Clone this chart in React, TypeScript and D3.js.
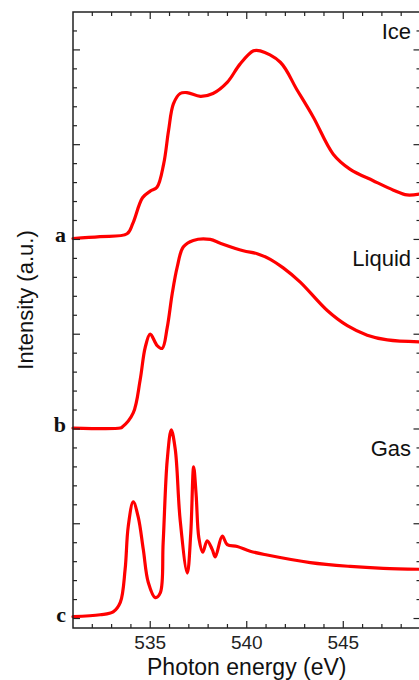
import React from "react";
import * as d3 from "d3";

const W = 419;
const H = 680;

// photon energy (eV), intensity (a.u.) relative to own baseline
const iceData: [number, number][] = [
  [531.0, 0.01], [532.4, 0.03], [533.8, 0.06], [534.1, 0.17], [534.6, 0.44],
  [535.0, 0.51], [535.35, 0.55], [535.7, 0.8], [535.95, 1.15], [536.2, 1.43],
  [536.55, 1.54], [536.9, 1.55], [537.6, 1.51], [538.25, 1.54], [539.0, 1.66],
  [539.65, 1.85], [540.35, 1.99], [540.7, 1.99], [541.74, 1.87], [542.6, 1.58],
  [543.45, 1.29], [544.48, 0.9], [545.36, 0.74], [546.55, 0.62], [547.6, 0.52],
  [548.3, 0.47], [548.95, 0.48],
];

const liquidData: [number, number][] = [
  [531.0, 0.01], [533.45, 0.01], [533.55, 0.02], [534.12, 0.17], [534.48, 0.52],
  [534.74, 0.86], [535.0, 1.0], [535.36, 0.88], [535.62, 0.85], [535.88, 1.07],
  [536.14, 1.43], [536.4, 1.71], [536.71, 1.92], [537.23, 1.99], [538.11, 2.0],
  [538.63, 1.96], [539.82, 1.88], [540.54, 1.85], [541.22, 1.79], [541.89, 1.7],
  [542.77, 1.55], [544.17, 1.25], [545.21, 1.09], [546.24, 0.99], [547.28, 0.94],
  [548.94, 0.92],
];

const gasData: [number, number][] = [
  [531.0, 0.02], [532.41, 0.04], [533.08, 0.07], [533.45, 0.17], [533.7, 0.52],
  [533.86, 0.97], [534.12, 1.23], [534.38, 1.07], [534.64, 0.73], [534.9, 0.38],
  [535.26, 0.22], [535.52, 0.27], [535.67, 0.8], [535.88, 1.67], [536.09, 1.99],
  [536.3, 1.78], [536.55, 1.04], [536.92, 0.48], [537.1, 0.9], [537.25, 1.6],
  [537.38, 1.3], [537.52, 0.85], [537.72, 0.7], [537.95, 0.82], [538.21, 0.73],
  [538.37, 0.65], [538.73, 0.87], [538.99, 0.78], [539.51, 0.76], [540.18, 0.71],
  [541.06, 0.67], [543.29, 0.59], [545.36, 0.55], [547.07, 0.53], [548.94, 0.52],
];

const seriesNames = ["Ice", "Liquid", "Gas"];
const seriesOffsets = [4, 2, 0];
const seriesLetters = ["a", "b", "c"];
const labelPositions = [6.2, 3.8, 1.8];
const xTickLabels = [535, 540, 545];

export default function App() {
  const left = 73, right = 420.5, top = 12, bottom = 628;
  const x = d3.scaleLinear().domain([531, 549]).range([left, right]);
  const y = d3.scaleLinear().domain([-0.1, 6.4]).range([bottom, top]);
  const datasets = [iceData, liquidData, gasData];
  const line = d3
    .line<[number, number]>()
    .x((d) => x(d[0]))
    .y((d) => y(d[1]))
    .curve(d3.curveCatmullRom.alpha(0.5));

  const xTicks = d3.range(532, 549, 1);
  const yTicks = d3.range(0, 32).map((i) => +(i * 0.2).toFixed(1));
  const isMajorY = (v: number) => Math.abs(v - Math.round(v)) < 1e-6;

  return (
    <svg
      width={W}
      height={H}
      style={{ position: "absolute", left: 0, top: 0, background: "#fff" }}
      fontFamily="'Liberation Sans', Arial, sans-serif"
    >
      <rect x={0} y={0} width={W} height={H} fill="#fff" />
      {datasets.map((ds, i) => (
        <path
          key={seriesNames[i]}
          d={line(ds.map((d) => [d[0], d[1] + seriesOffsets[i]] as [number, number])) || ""}
          fill="none"
          stroke="#ff0000"
          strokeWidth={3.2}
          strokeLinejoin="round"
          strokeLinecap="round"
        />
      ))}
      <rect x={left} y={top} width={right - left} height={bottom - top} fill="none" stroke="#222" strokeWidth={1.5} />
      {xTicks.map((t) => {
        const major = t % 5 === 0;
        const len = major ? 7 : 4;
        return (
          <g key={"x" + t}>
            <line x1={x(t)} x2={x(t)} y1={bottom} y2={bottom - len} stroke="#222" strokeWidth={1.2} />
            <line x1={x(t)} x2={x(t)} y1={top} y2={top + len} stroke="#222" strokeWidth={1.2} />
          </g>
        );
      })}
      {xTickLabels.map((t) => (
        <text key={"xl" + t} x={x(t)} y={649} textAnchor="middle" fontSize={19} fill="#222">
          {t}
        </text>
      ))}
      {yTicks.map((t) => {
        const len = isMajorY(t) ? 7 : 4;
        return (
          <g key={"y" + t}>
            <line x1={left} x2={left + len} y1={y(t)} y2={y(t)} stroke="#222" strokeWidth={1.2} />
            <line x1={right} x2={right - len} y1={y(t)} y2={y(t)} stroke="#222" strokeWidth={1.2} />
          </g>
        );
      })}
      {seriesNames.map((n, i) => (
        <text key={n} x={411} y={y(labelPositions[i]) + 8} textAnchor="end" fontSize={22} fill="#111">
          {n}
        </text>
      ))}
      {seriesLetters.map((l, i) => (
        <text
          key={l}
          x={66}
          y={y(seriesOffsets[i]) + 3}
          textAnchor="end"
          fontSize={22}
          fontWeight="bold"
          fontFamily="'Liberation Serif', 'Times New Roman', serif"
          fill="#111"
        >
          {l}
        </text>
      ))}
      <text x={(left + right) / 2} y={675} textAnchor="middle" fontSize={23} fill="#111">
        Photon energy (eV)
      </text>
      <text transform={`translate(33, 300) rotate(-90)`} textAnchor="middle" fontSize={22} fill="#111">
        Intensity (a.u.)
      </text>
    </svg>
  );
}
